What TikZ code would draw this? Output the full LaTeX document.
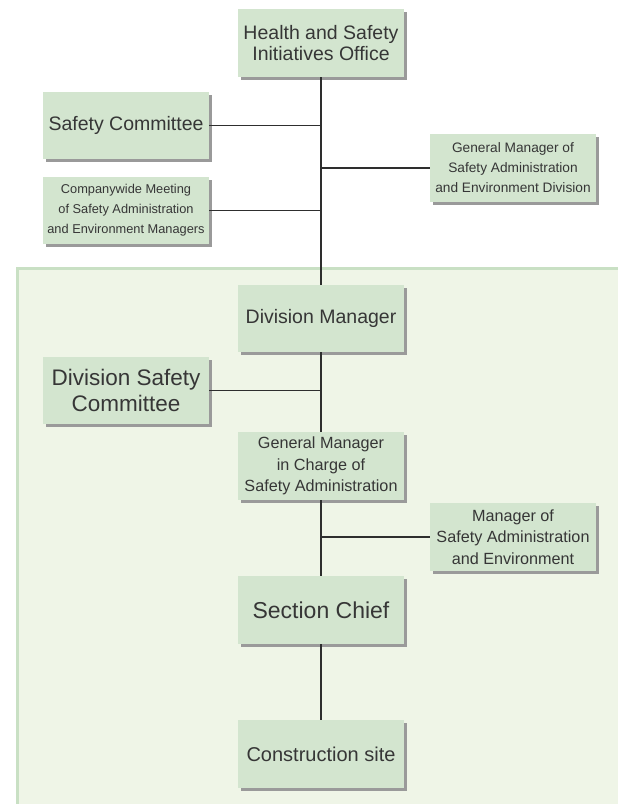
\documentclass[tikz,border=0pt]{standalone}
\usepackage{fontspec}
\setmainfont{Liberation Sans}
\usetikzlibrary{shadows}

\definecolor{boxgreen}{HTML}{D3E5CF}
\definecolor{panelgreen}{HTML}{EFF5E7}
\definecolor{paneledge}{HTML}{C9E0C4}
\definecolor{shadowgray}{HTML}{9A9A9A}
\definecolor{textgray}{HTML}{363636}
\definecolor{linegray}{HTML}{2E2E2E}

\tikzset{
  orgbox/.style={fill=boxgreen, text=textgray, align=center, inner sep=0pt,
    minimum width=166pt, minimum height=68pt,
    drop shadow={shadow xshift=3pt, shadow yshift=-3pt, fill=shadowgray, opacity=1}},
  bigtext/.style={font=\fontsize{19.5}{21.7}\selectfont},
  hugetext/.style={font=\fontsize{22.5}{26.7}\selectfont},
  midtext/.style={font=\fontsize{16.2}{21.5}\selectfont},
  smalltext/.style={font=\fontsize{13.7}{20}\selectfont},
  tinytext/.style={font=\fontsize{12.8}{20}\selectfont},
  link/.style={draw=linegray, line width=1.9pt}
}

\begin{document}
\begin{tikzpicture}[x=1pt, y=-1pt]
    \useasboundingbox (0,0) rectangle (618,804);

    % Division panel
    \fill[panelgreen] (16,267) rectangle (640,820);
    \draw[paneledge, line width=3pt] (17.5,268.5) rectangle (640,820);

    % Company level
    \node[orgbox, bigtext] (office) at (321,43) {Health and Safety\\Initiatives Office};
    \node[orgbox, bigtext, minimum height=67pt] (committee) at (126,125.5) {Safety Committee};
    \node[orgbox, tinytext, minimum height=67pt] (meeting) at (126,210.5)
         {Companywide Meeting\\of Safety Administration\\and Environment Managers};
    \node[orgbox, smalltext] (gmdivision) at (513,168)
         {General Manager of\\Safety Administration\\and Environment Division};

    % Division level
    \node[orgbox, bigtext, minimum height=67pt] (divmanager) at (321,318.5) {Division Manager};
    \node[orgbox, hugetext, minimum height=67pt] (divcommittee) at (126,390.5) {Division Safety\\Committee};
    \node[orgbox, midtext] (gmcharge) at (321,466) {General Manager\\in Charge of\\Safety Administration};
    \node[orgbox, midtext] (safetymanager) at (513,537) {Manager of\\Safety Administration\\and Environment};
    \node[orgbox, font=\fontsize{23}{26}\selectfont] (chief) at (321,610) {Section Chief};
    \node[orgbox, font=\fontsize{20}{24}\selectfont] (site) at (321,754) {Construction site};

    % Main line
    \draw[link] (office.south) -- (divmanager.north);
    \draw[link] (divmanager.south) -- (gmcharge.north);
    \draw[link] (gmcharge.south) -- (chief.north);
    \draw[link] (chief.south) -- (site.north);

    % Side branches
    \draw[link] (committee.east) -- (committee.east -| office.south);
    \draw[link] (meeting.east) -- (meeting.east -| office.south);
    \draw[link] (gmdivision.west) -- (gmdivision.west -| office.south);
    \draw[link] (divcommittee.east) -- (divcommittee.east -| divmanager.south);
    \draw[link] (safetymanager.west) -- (safetymanager.west -| gmcharge.south);

\end{tikzpicture}
\end{document}
